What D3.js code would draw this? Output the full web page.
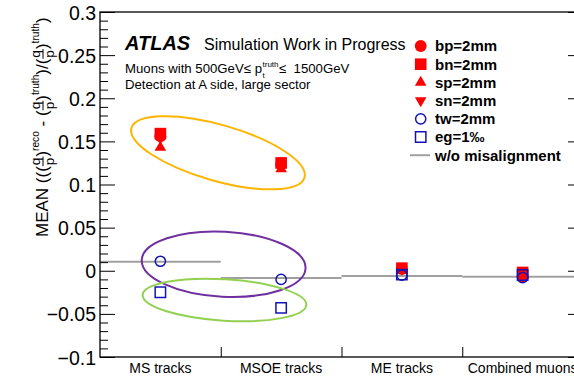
<!DOCTYPE html>
<html><head><meta charset="utf-8">
<script src="https://cdn.jsdelivr.net/npm/d3@7"></script>
<style>
body{margin:0;background:#fff;}
svg{display:block;font-family:"Liberation Sans",Arial,Helvetica,sans-serif;}
text{white-space:pre;}
</style>
</head><body>
<svg id="c" width="574" height="380"></svg>
<script>
// ---------------- data ----------------
const categories = ["MS tracks", "MSOE tracks", "ME tracks", "Combined muons"];
const bp = [0.156, 0.123, 0.002, -0.007];
const bn = [0.159, 0.125, 0.003, -0.002];
const sp = [0.143, 0.118, 0.002, -0.004];
const sn = [0.154, 0.122, 0.002, -0.003];
const tw = [0.011, -0.010, -0.005, -0.008];
const eg = [-0.025, -0.043, -0.0045, -0.005];
const noMisalign = [0.0105, -0.0085, -0.006, -0.007];
const yTicks = [-0.1, -0.05, 0, 0.05, 0.1, 0.15, 0.2, 0.25, 0.3];
const yDomain = [-0.1, 0.3];
const legendLabels = ["bp=2mm", "bn=2mm", "sp=2mm", "sn=2mm", "tw=2mm", "eg=1\u2030", "w/o misalignment"];
// annotation ellipses: centre in (bin units, value), radii in px, angle in deg
const ellipseCx = [0.977, 1.024, 1.031];
const ellipseCy = [0.1368, 0.0076, -0.0339];
const ellipseRx = [90, 82, 82];
const ellipseRy = [28, 32.5, 20.7];
const ellipseAngle = [16, 3, 3.5];
const ellipseColor = ["#ffb400", "#7030a0", "#92d050"];

// ---------------- setup ----------------
const svg = d3.select("#c");
const P = {left: 100, right: 583, top: 12, bottom: 357};
const x = d3.scaleBand().domain(categories).range([P.left, P.right]).padding(0);
const xl = d3.scaleLinear().domain([0, categories.length]).range([P.left, P.right]);
const y = d3.scaleLinear().domain(yDomain).range([P.bottom, P.top]);
const RED = "#ff0000", BLUE = "#1414b4", GREY = "#a0a0a0";

// ---------------- w/o misalignment lines ----------------
svg.append("g").selectAll("line").data(noMisalign).join("line")
  .attr("x1", (d, i) => xl(i)).attr("x2", (d, i) => xl(i + 1))
  .attr("y1", d => y(d)).attr("y2", d => y(d))
  .attr("stroke", GREY).attr("stroke-width", 2);

// ---------------- markers ----------------
const series = [
  {vals: bp, type: d3.symbolCircle, size: 110, fill: RED, stroke: "none", rot: 0},
  {vals: bn, type: d3.symbolSquare, size: 135, fill: RED, stroke: "none", rot: 0},
  {vals: sp, type: d3.symbolTriangle, size: 58, fill: RED, stroke: "none", rot: 0},
  {vals: sn, type: d3.symbolTriangle, size: 58, fill: RED, stroke: "none", rot: 180},
  {vals: tw, type: d3.symbolCircle, size: 82, fill: "none", stroke: BLUE, rot: 0},
  {vals: eg, type: d3.symbolSquare, size: 108, fill: "none", stroke: BLUE, rot: 0}
];
series.forEach(s => {
  svg.append("g").selectAll("path").data(s.vals).join("path")
    .attr("d", d3.symbol().type(s.type).size(s.size))
    .attr("transform", (d, i) => `translate(${x(categories[i]) + x.bandwidth() / 2},${y(d)}) rotate(${s.rot})`)
    .attr("fill", s.fill).attr("stroke", s.stroke).attr("stroke-width", 1.5);
});

// ---------------- ellipses ----------------
svg.append("g").selectAll("ellipse").data(ellipseCx).join("ellipse")
  .attr("transform", (d, i) => `translate(${xl(d)},${y(ellipseCy[i])}) rotate(${ellipseAngle[i]})`)
  .attr("rx", (d, i) => ellipseRx[i]).attr("ry", (d, i) => ellipseRy[i])
  .attr("fill", "none").attr("stroke", (d, i) => ellipseColor[i]).attr("stroke-width", 2);

// ---------------- frame & axes ----------------
svg.append("rect").attr("x", P.left).attr("y", P.top)
  .attr("width", P.right - P.left).attr("height", P.bottom - P.top)
  .attr("fill", "none").attr("stroke", "#000").attr("stroke-width", 1.3);

const minorTicks = d3.range(-100, 301, 10).map(v => v / 1000).filter(v => Math.round(v * 1000) % 50 !== 0);
const fmt = d3.format("~g");

const yL = svg.append("g").attr("transform", `translate(${P.left},0)`)
  .call(d3.axisLeft(y).tickValues(yTicks).tickFormat(fmt).tickSizeInner(-15).tickSizeOuter(0).tickPadding(4));
yL.select(".domain").remove();
yL.selectAll("text").attr("font-size", 19.5).attr("font-family", "Liberation Sans, Arial, sans-serif").attr("fill", "#000").attr("dy", "0.36em");
const yLm = svg.append("g").attr("transform", `translate(${P.left},0)`)
  .call(d3.axisLeft(y).tickValues(minorTicks).tickFormat("").tickSizeInner(-8).tickSizeOuter(0));
yLm.select(".domain").remove();

const yR = svg.append("g").attr("transform", `translate(${P.right},0)`)
  .call(d3.axisRight(y).tickValues(yTicks).tickFormat("").tickSizeInner(-15).tickSizeOuter(0));
yR.select(".domain").remove();
const yRm = svg.append("g").attr("transform", `translate(${P.right},0)`)
  .call(d3.axisRight(y).tickValues(minorTicks).tickFormat("").tickSizeInner(-8).tickSizeOuter(0));
yRm.select(".domain").remove();

const xB = svg.append("g").attr("transform", `translate(0,${P.bottom})`)
  .call(d3.axisBottom(xl).tickValues(d3.range(1, categories.length)).tickFormat("").tickSizeInner(-10).tickSizeOuter(0));
xB.select(".domain").remove();

svg.append("g").selectAll("text").data(categories).join("text")
  .attr("x", d => x(d) + x.bandwidth() / 2).attr("y", 373)
  .attr("text-anchor", "middle").attr("font-size", 14).text(d => d);

// ---------------- y-axis title ----------------
(function () {
  const g = svg.append("g").attr("transform", "translate(48,237) rotate(-90)");
  const F = 17;
  let cx = 0;
  function txt(s, size, dy) {
    const t = g.append("text").attr("x", cx).attr("y", dy).attr("font-size", size).text(s);
    cx += t.node().getComputedTextLength();
  }
  function frac(n, d) {
    const fs = F * 0.8;
    const a = g.append("text").attr("y", -8).attr("font-size", fs).text(n);
    const b = g.append("text").attr("y", 5.5).attr("font-size", fs).text(d);
    const wa = a.node().getComputedTextLength(), wb = b.node().getComputedTextLength();
    const w = Math.max(wa, wb) + 2;
    a.attr("x", cx + (w - wa) / 2);
    b.attr("x", cx + (w - wb) / 2);
    g.append("line").attr("x1", cx).attr("x2", cx + w).attr("y1", -5).attr("y2", -5)
      .attr("stroke", "#000").attr("stroke-width", 1);
    cx += w;
  }
  txt("MEAN (((", F, 0);
  frac("q", "p"); txt(")", F, 0); txt("reco", F * 0.6, -9);
  txt(" - (", F, 0);
  frac("q", "p"); txt(")", F, 0); txt("truth", F * 0.6, -9);
  txt(")/(", F, 0);
  frac("q", "p"); txt(")", F, 0); txt("truth", F * 0.6, -9);
  txt(")", F, 0);
})();

// ---------------- header texts ----------------
svg.append("text").attr("x", 125).attr("y", 50).attr("font-size", 20)
  .attr("font-weight", "bold").attr("font-style", "italic").text("ATLAS");
svg.append("text").attr("x", 204).attr("y", 50).attr("font-size", 16).text("Simulation Work in Progress");

(function () {
  const t = svg.append("text").attr("x", 125).attr("y", 73).attr("font-size", 13.2);
  const s1 = t.append("tspan").text("Muons with 500GeV\u2264 p");
  const x1 = 125 + s1.node().getComputedTextLength();
  const s2 = t.append("tspan").attr("x", x1 + 0.5).attr("dy", -6).attr("font-size", 8).text("truth");
  const x2 = x1 + s2.node().getComputedTextLength() + 1;
  t.append("tspan").attr("x", x1 + 0.5).attr("dy", 11).attr("font-size", 8).text("t");
  t.append("tspan").attr("x", x2).attr("dy", -5).text("\u2264  1500GeV");
})();
svg.append("text").attr("x", 125).attr("y", 89).attr("font-size", 13.2).text("Detection at A side, large sector");

// ---------------- legend ----------------
const LX = 420.7, LY0 = 46, LDY = 18.2;
const legendG = svg.append("g");
series.forEach((s, i) => {
  legendG.append("path")
    .attr("d", d3.symbol().type(s.type).size(s.size))
    .attr("transform", `translate(${LX},${LY0 + i * LDY}) rotate(${s.rot})`)
    .attr("fill", s.fill).attr("stroke", s.stroke).attr("stroke-width", 1.5);
});
legendG.append("line").attr("x1", 410).attr("x2", 430)
  .attr("y1", LY0 + 6 * LDY).attr("y2", LY0 + 6 * LDY).attr("stroke", GREY).attr("stroke-width", 2);
legendG.selectAll("text").data(legendLabels).join("text")
  .attr("x", 435).attr("y", (d, i) => LY0 + i * LDY + 5.3)
  .attr("font-size", 15).attr("font-weight", "bold").text(d => d);
</script>
</body></html>
